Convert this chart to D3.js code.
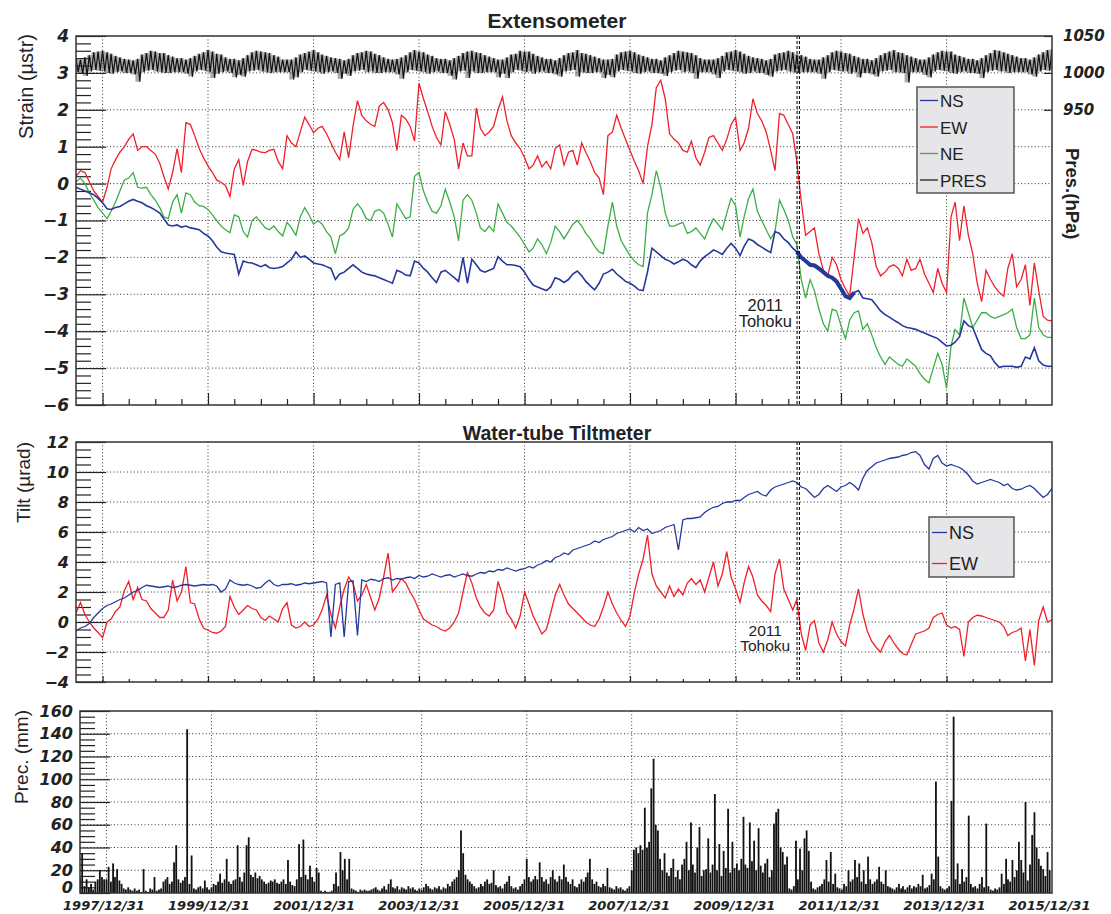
<!DOCTYPE html>
<html>
<head>
<meta charset="utf-8">
<script src="https://cdn.jsdelivr.net/npm/d3@7"></script>
<style>
  body { margin: 0; background: #fff; }
  .ax path.domain { display: none; }
  .ax line { stroke: #222; stroke-width: 1.2; }
  .ax text { font-family: "DejaVu Sans"; font-weight: bold; font-style: italic; fill: #222; }
  .grid line { stroke: #333; stroke-width: 1; stroke-dasharray: 1 2.4; }
  .lbl { font-family: "Liberation Sans", Arial, sans-serif; fill: #222; }
</style>
</head>
<body>
<svg id="chart" width="1111" height="914"></svg>
<script>
// monthly samples from 1997-07, one row = Jul..Jun
const extNS = [
  -0.1,-0.15,-0.2,-0.25,-0.3,-0.4,-0.52,-0.68,-0.7,-0.65,-0.62,-0.55,
  -0.48,-0.43,-0.48,-0.52,-0.6,-0.65,-0.72,-0.8,-0.95,-1.12,-1.15,-1.12,
  -1.18,-1.15,-1.2,-1.22,-1.25,-1.35,-1.42,-1.55,-1.72,-1.85,-1.88,-1.9,
  -1.92,-2.45,-2.1,-2.14,-2.15,-2.2,-2.25,-2.2,-2.28,-2.3,-2.28,-2.25,
  -2.15,-2.05,-1.85,-2.0,-1.96,-2.05,-2.15,-2.18,-2.2,-2.25,-2.3,-2.6,
  -2.45,-2.4,-2.3,-2.2,-2.3,-2.4,-2.45,-2.48,-2.5,-2.55,-2.6,-2.65,
  -2.7,-2.35,-2.4,-2.48,-2.5,-2.1,-2.15,-2.3,-2.4,-2.55,-2.68,-2.4,
  -2.35,-2.45,-2.55,-2.65,-2.0,-2.7,-2.05,-2.2,-2.35,-2.4,-2.35,-2.3,
  -1.98,-2.1,-2.2,-2.2,-2.22,-2.25,-2.4,-2.6,-2.75,-2.8,-2.85,-2.9,
  -2.8,-2.55,-2.6,-2.68,-2.6,-2.45,-2.37,-2.5,-2.65,-2.77,-2.88,-2.7,
  -2.45,-2.4,-2.32,-2.45,-2.55,-2.65,-2.7,-2.78,-2.88,-2.9,-2.4,-1.75,
  -1.85,-1.95,-2.05,-2.1,-2.18,-2.12,-2.05,-2.1,-2.2,-2.28,-2.1,-1.98,
  -1.9,-1.8,-1.85,-1.92,-1.75,-1.62,-1.75,-1.95,-1.7,-1.5,-1.55,-1.65,
  -1.72,-1.8,-1.87,-1.3,-1.35,-1.5,-1.6,-1.75,-1.85,-2.0,-2.1,-2.2,
  -2.22,-2.3,-2.4,-2.5,-2.55,-2.65,-2.85,-3.05,-3.1,-2.95,-2.9,-3.1,
  -3.12,-3.15,-3.3,-3.45,-3.55,-3.62,-3.7,-3.77,-3.85,-3.9,-3.92,-3.95,
  -4.0,-4.05,-4.1,-4.15,-4.2,-4.3,-4.4,-4.38,-4.3,-4.15,-3.72,-3.85,
  -3.9,-4.2,-4.5,-4.6,-4.67,-4.85,-4.98,-4.95,-4.95,-4.95,-4.98,-4.95,
  -4.7,-4.75,-4.45,-4.8,-4.92,-4.95,-4.95
];
const extEW = [
  0.2,0.35,0.3,0.05,-0.2,-0.35,-0.5,-0.1,0.4,0.65,0.85,1.0,
  1.2,1.35,0.9,1.0,1.0,0.9,0.8,0.55,0.2,-0.15,0.3,0.95,
  0.3,1.65,1.6,1.3,0.95,0.7,0.48,0.3,0.1,0.03,-0.05,-0.35,
  0.4,0.65,-0.05,0.6,0.93,0.9,0.85,0.84,0.9,0.93,0.6,0.4,
  1.3,1.1,1.0,1.4,1.8,1.6,1.38,1.5,1.55,1.35,1.1,0.85,
  0.65,1.4,0.7,1.55,2.25,1.85,1.7,1.6,1.55,2.1,2.2,2.0,
  1.65,0.9,1.85,1.75,1.55,1.15,2.72,2.3,1.95,1.55,1.25,1.05,
  1.95,1.6,1.2,0.4,1.1,0.75,0.75,2.05,1.5,1.3,1.4,1.55,
  2.0,2.35,1.7,1.3,1.1,0.95,0.7,0.4,0.5,0.75,0.45,0.6,
  0.4,0.95,1.05,0.5,0.85,0.9,0.5,1.1,0.85,0.6,0.3,0.15,
  -0.3,1.3,1.4,1.85,1.5,1.2,0.9,0.6,0.35,0.0,1.0,1.6,
  2.6,2.8,2.3,1.35,1.2,1.1,0.9,0.85,1.15,0.7,0.5,0.85,
  1.25,1.3,1.1,0.9,1.2,1.6,1.8,0.9,1.1,1.5,2.3,1.9,
  1.7,1.4,0.9,0.35,1.9,1.85,1.6,1.35,0.6,-0.5,-1.4,-1.3,
  -1.2,-1.9,-2.35,-2.5,-2.0,-2.2,-2.6,-2.85,-3.05,-2.0,-0.95,-1.35,
  -1.2,-1.6,-2.25,-2.5,-2.4,-2.25,-2.2,-2.3,-2.5,-2.05,-2.35,-2.3,
  -2.05,-2.45,-2.7,-2.95,-2.3,-2.7,-2.95,-0.9,-0.5,-1.55,-0.6,-1.4,
  -1.9,-2.7,-3.2,-2.35,-2.6,-2.8,-2.95,-3.05,-2.3,-1.9,-2.8,-2.6,
  -2.2,-3.3,-2.15,-2.9,-3.6,-3.7,-3.72
];
const extNE = [
  0.05,0.15,0.0,-0.25,-0.45,-0.65,-0.8,-0.95,-0.75,-0.5,-0.2,0.1,
  0.15,0.3,-0.1,-0.12,-0.1,-0.3,-0.45,-0.65,-0.9,-0.95,-0.5,-0.3,
  -0.8,-0.25,-0.3,-0.5,-0.6,-0.62,-0.7,-0.85,-1.0,-1.15,-1.25,-1.33,
  -0.85,-0.9,-1.3,-1.45,-1.0,-0.9,-1.05,-1.2,-1.25,-1.15,-1.3,-1.42,
  -1.05,-1.2,-1.4,-0.9,-0.65,-0.85,-1.1,-1.0,-1.1,-1.3,-1.45,-1.9,
  -1.42,-1.35,-1.2,-0.7,-0.55,-0.7,-0.95,-1.0,-0.75,-0.7,-0.8,-1.1,
  -1.45,-0.55,-0.75,-0.95,-0.9,0.2,0.3,-0.2,-0.5,-0.75,-0.8,-0.6,
  -0.15,-0.5,-0.9,-1.55,-0.45,-0.3,-0.45,-0.8,-1.2,-1.3,-1.15,-1.3,
  -0.55,-0.8,-1.05,-1.15,-1.3,-1.45,-1.65,-1.85,-1.75,-1.5,-1.65,-1.9,
  -1.6,-1.15,-1.3,-1.5,-1.3,-1.1,-1.0,-1.15,-1.35,-1.5,-1.7,-1.85,
  -1.9,-1.15,-0.5,-1.15,-1.55,-1.75,-1.95,-2.1,-2.2,-2.25,-0.8,-0.3,
  0.35,-0.1,-0.8,-1.15,-1.15,-1.1,-1.05,-1.35,-1.3,-1.2,-1.35,-1.5,
  -1.2,-0.95,-1.1,-1.25,-0.8,-0.4,-0.6,-1.45,-0.9,-0.4,-0.15,-0.75,
  -1.0,-1.25,-1.5,-1.3,-0.45,-0.7,-1.0,-1.45,-1.65,-2.6,-3.1,-2.6,
  -2.9,-3.4,-3.8,-4.0,-3.4,-3.45,-3.85,-4.2,-3.7,-3.5,-3.45,-3.95,
  -3.8,-4.1,-4.45,-4.7,-4.9,-4.7,-4.8,-4.9,-4.95,-4.75,-4.85,-4.95,
  -5.15,-5.3,-5.4,-5.0,-4.6,-4.9,-5.55,-4.4,-3.95,-4.1,-3.1,-3.5,
  -3.9,-3.7,-3.5,-3.5,-3.6,-3.65,-3.6,-3.55,-3.5,-3.4,-3.9,-4.2,
  -4.2,-4.1,-3.1,-3.9,-4.1,-4.17,-4.17
];
// air pressure (hPa): monthly upper and lower edge of the daily trace
const presHi = [
  1019,1018,1021,1024,1028,1029,1030,1028,1026,1023,1021,1019,
  1018,1017,1019,1025,1027,1030,1029,1027,1027,1024,1022,1020,
  1020,1018,1020,1023,1026,1028,1031,1029,1026,1025,1021,1019,
  1019,1017,1020,1024,1028,1030,1029,1028,1027,1024,1022,1018,
  1018,1018,1021,1025,1027,1029,1031,1028,1025,1023,1021,1020,
  1019,1017,1019,1024,1027,1028,1030,1029,1026,1024,1021,1019,
  1018,1019,1021,1024,1028,1031,1029,1028,1025,1023,1020,1019,
  1019,1017,1020,1023,1027,1029,1030,1028,1027,1024,1022,1020,
  1018,1018,1021,1025,1026,1030,1029,1029,1026,1023,1021,1019,
  1019,1017,1020,1024,1027,1028,1031,1027,1026,1024,1022,1020,
  1018,1018,1019,1025,1028,1029,1030,1028,1025,1023,1021,1019,
  1019,1017,1021,1024,1027,1030,1029,1028,1027,1024,1020,1018,
  1018,1018,1020,1023,1028,1029,1031,1029,1026,1023,1021,1020,
  1019,1017,1019,1025,1027,1028,1030,1028,1025,1024,1022,1019,
  1018,1018,1021,1024,1028,1030,1029,1027,1026,1023,1021,1019,
  1019,1017,1020,1024,1027,1029,1031,1028,1027,1024,1022,1020,
  1018,1018,1021,1025,1028,1030,1029,1029,1025,1023,1021,1019,
  1019,1017,1020,1024,1027,1031,1030,1028,1026,1024,1022,1020,
  1020,1018,1021,1025,1028,1031,1032
];
const presLo = [
  1001,999,996,1002,1004,1003,1002,1000,999,1001,1002,1000,
  1000,998,988,1001,1003,1004,1002,1001,1000,1000,1001,1001,
  1001,999,995,1002,1004,1003,1001,993,999,1001,1002,1000,
  994,997,995,1002,1003,1004,1002,1001,1000,1001,1001,1001,
  1001,991,994,1001,1004,1003,1002,1001,999,1001,1002,1000,
  992,999,996,1002,1003,1004,1001,1002,1000,1000,1001,1001,
  1001,998,992,1001,1004,1003,1002,1001,999,1001,1002,1000,
  1000,996,991,1002,1003,993,1002,1000,1000,1001,1001,1001,
  994,999,993,1001,1004,1003,1001,1002,999,1001,1002,1000,
  1000,998,995,1002,1003,1004,995,1001,1000,1000,1001,1001,
  993,997,994,1002,1004,1003,1002,1000,999,1001,1002,1000,
  1000,999,996,1001,1003,1004,1001,1002,1000,992,1001,1001,
  1001,998,993,1002,1004,1003,1002,1001,999,1000,1002,1000,
  1000,997,995,1002,1003,1004,1002,1001,1000,1001,1001,1001,
  1001,999,992,1001,1004,1003,1002,1002,999,1001,994,1000,
  1000,998,995,1002,1003,1004,1001,1001,1000,987,1001,1001,
  1001,997,994,1002,1004,1003,1002,1000,999,1001,1002,1000,
  1000,999,993,1001,1003,1004,1002,1002,1000,1001,1001,1001,
  1001,998,995,1002,1004,1003,1004
];
const tiltNS = [
  -0.6,-0.4,-0.3,-0.1,0.3,0.6,0.9,1.1,1.2,1.35,1.5,1.6,
  1.8,2.0,2.1,2.3,2.45,2.4,2.35,2.3,2.35,2.4,2.3,2.35,
  2.45,2.5,2.45,2.4,2.45,2.5,2.45,2.5,2.4,2.0,2.2,2.8,
  2.6,2.5,2.45,2.5,2.4,2.25,2.3,2.6,2.8,2.5,2.4,2.5,
  2.5,2.55,2.45,2.5,2.6,2.55,2.6,2.65,2.7,2.6,-1.0,2.5,
  2.6,-1.0,2.7,2.75,-0.9,2.8,2.7,2.85,2.8,2.7,2.9,2.95,
  2.8,2.9,2.85,2.95,3.0,2.9,3.1,3.0,3.05,3.2,3.1,3.0,
  3.1,3.15,3.0,3.1,3.2,3.1,3.05,3.2,3.3,3.25,3.4,3.35,
  3.5,3.45,3.6,3.5,3.4,3.5,3.55,3.7,3.6,3.8,3.9,4.1,
  4.0,4.3,4.4,4.6,4.5,4.8,4.9,5.0,5.1,5.2,5.4,5.3,
  5.5,5.6,5.7,5.9,6.0,6.1,6.2,6.0,6.3,6.1,6.2,5.9,
  6.0,6.1,6.3,6.4,6.5,4.8,6.8,6.9,6.9,6.95,7.0,7.3,
  7.5,7.65,7.7,7.9,8.0,8.0,8.1,8.1,8.3,8.5,8.6,8.7,
  8.5,8.4,8.8,9.0,9.1,9.2,9.3,9.4,9.3,9.0,8.9,8.6,
  8.3,8.5,8.9,9.1,8.9,8.7,9.0,9.1,9.3,9.1,8.8,9.6,
  10.1,10.35,10.6,10.7,10.8,10.9,10.95,11.0,11.1,11.15,11.3,11.36,
  11.1,10.5,10.2,10.9,11.1,10.6,10.4,10.5,10.4,10.3,10.1,9.8,
  9.4,9.2,9.3,9.4,9.5,9.4,9.3,9.1,9.2,8.9,8.8,8.85,
  9.0,9.1,8.9,8.6,8.3,8.5,8.9
];
const tiltEW = [
  0.6,1.3,0.5,0.0,-0.4,-0.7,-1.05,0.0,0.2,0.7,1.0,2.1,
  2.7,1.5,2.3,1.5,1.4,0.9,0.6,0.3,0.3,0.8,2.8,1.4,
  2.0,3.7,1.3,1.2,0.2,-0.4,-0.55,-0.7,-0.75,-0.6,-0.3,1.7,
  1.0,0.5,0.8,1.1,0.9,0.8,0.3,0.1,0.4,0.2,0.0,0.9,
  1.3,-0.2,-0.4,-0.3,0.0,-0.3,-0.2,0.2,0.8,1.8,0.5,-0.4,
  1.0,2.2,3.0,2.6,1.4,1.8,2.5,1.6,0.8,1.6,3.0,4.6,
  2.0,2.4,2.9,2.6,2.0,1.5,0.8,0.2,0.0,-0.2,-0.3,-0.5,
  -0.6,-0.4,0.0,0.6,2.0,3.3,2.6,1.6,1.0,0.6,0.4,0.8,
  2.7,1.8,0.6,0.2,-0.4,0.4,2.0,1.2,0.4,-0.2,-0.8,-0.5,
  0.6,1.8,2.5,1.8,1.2,0.9,0.6,0.3,0.0,-0.2,-0.3,0.2,
  1.0,2.0,1.2,0.6,0.1,-0.3,0.4,2.0,3.2,4.2,5.8,3.2,
  2.4,2.0,1.6,2.4,1.7,2.2,1.8,2.6,2.9,2.5,2.8,2.0,
  3.0,4.0,2.4,3.2,4.7,3.0,2.2,1.3,2.6,3.7,3.0,1.8,
  1.4,1.1,0.7,3.2,4.2,2.2,1.5,0.8,1.5,-0.8,-1.9,-0.2,
  0.1,-1.4,-2.0,-1.2,0.0,-0.8,-1.3,-1.6,-0.2,0.9,2.2,0.5,
  -0.6,-1.3,-1.7,-2.0,-1.3,-0.9,-1.4,-1.8,-2.1,-2.2,-1.5,-0.8,
  -0.7,-0.6,-0.4,0.3,0.5,0.6,-0.2,-0.4,-0.3,-0.5,-2.3,0.0,
  0.3,0.45,0.4,0.3,0.2,0.1,0.0,-0.3,-0.9,-0.7,-0.6,-0.4,
  -2.6,-0.5,-2.9,0.1,1.0,0.0,0.15
];
// precipitation (mm), half-month peaks from 1997-07, one row per calendar year
const precip = [
  13,35,6,12,5,8,3,10,12,20,14,12,
  12,23,10,26,14,21,11,8,4,3,5,3,2,4,2,3,1,21,2,1,4,3,14,2,
  3,4,10,12,14,8,10,27,42,12,9,11,14,144,8,33,4,3,5,6,4,11,5,3,
  5,8,7,10,17,9,12,30,10,8,11,12,42,14,10,18,42,49,16,14,18,13,15,12,
  10,8,9,11,10,12,9,8,10,12,8,29,10,7,6,12,43,14,47,16,12,24,14,10,
  22,18,2,1,2,1,1,2,8,18,6,36,20,30,12,30,4,3,2,1,3,2,3,2,
  2,3,4,5,3,2,4,6,3,8,12,5,4,6,3,5,4,3,6,4,5,3,2,4,
  3,5,8,6,4,3,5,4,6,3,5,4,8,6,10,12,14,20,55,35,16,12,10,8,
  6,4,5,8,6,10,12,8,9,20,7,5,6,4,8,10,15,6,4,5,3,6,8,12,
  30,14,10,12,15,12,27,14,10,12,8,14,20,12,10,15,12,25,14,10,8,12,6,5,
  8,12,10,14,18,30,12,8,10,6,5,8,6,22,5,4,3,6,4,5,3,2,4,6,
  20,38,40,35,42,38,75,40,45,92,118,60,55,30,20,35,18,15,22,30,14,20,12,25,
  30,45,20,62,25,18,40,58,15,20,21,48,18,25,87,20,43,15,37,22,74,18,45,22,
  26,20,30,67,25,22,62,28,46,20,57,24,18,26,30,14,20,61,71,74,40,36,25,32,
  4,3,6,46,12,39,20,48,55,37,10,4,3,5,6,8,12,29,10,36,8,17,5,4,
  3,8,6,20,10,12,29,14,26,10,20,8,32,12,8,10,12,23,10,8,20,6,5,4,
  3,5,8,4,6,3,5,7,4,6,5,8,6,16,4,5,7,17,12,98,32,6,4,3,
  4,6,81,155,12,26,8,21,10,14,68,8,5,6,4,8,14,5,61,6,3,2,4,3,
  5,17,8,30,12,10,29,14,20,45,29,18,80,11,25,51,71,40,30,24,21,15,36,20
];

const extLegend = [{name: "NS", color: "#24399b"}, {name: "EW", color: "#f0202a"},
                   {name: "NE", color: "#3cae46"}, {name: "PRES", color: "#222"}];
const tiltLegend = [{name: "NS", color: "#24399b"}, {name: "EW", color: "#f0202a"}];

const quake = new Date(2011, 2, 11);
const t0 = new Date(1997, 6, 1), t1 = new Date(2016, 0, 1);

const svg = d3.select("#chart");

const monthDate = i => d3.timeMonth.offset(t0, i);
const monthly = arr => arr.map((v, i) => ({date: monthDate(i), v}));
const halfMonth = i => d3.timeDay.offset(monthDate(Math.floor(i / 2)), (i % 2) * 15);

// scales
const xTop = d3.scaleTime().domain([t0, t1]).range([76, 1052]);
const xPrec = d3.scaleTime().domain([t0, t1]).range([80, 1052]);
const yStrain = d3.scaleLinear().domain([-6, 4]).range([405, 36]);
const yPres = d3.scaleLinear().domain([950, 1050]).range([yStrain(2), yStrain(4)]);
const yTilt = d3.scaleLinear().domain([-4, 12]).range([682, 442]);
const yPrec = d3.scaleLinear().domain([0, 160]).range([893, 711]);

const xMajor = d3.range(1998, 2016, 2).map(y => new Date(y, 0, 1));
const xMinor = d3.timeMonth.every(6).range(d3.timeDay.offset(t0, 1), t1)
  .filter(d => !(d.getMonth() === 0 && d.getFullYear() % 2 === 0));

function clip(id, x, y) {
  const [xl, xr] = x.range(), [yb, yt] = y.range();
  svg.append("clipPath").attr("id", id).append("rect")
    .attr("x", xl).attr("y", yt).attr("width", xr - xl).attr("height", yb - yt);
}

function grid(x, y, yVals) {
  const [xl, xr] = x.range(), [yb, yt] = y.range();
  const g = svg.append("g").attr("class", "grid");
  g.selectAll(".gv").data(xMajor).join("line").attr("class", "gv")
    .attr("x1", d => x(d)).attr("x2", d => x(d)).attr("y1", yt).attr("y2", yb);
  g.selectAll(".gh").data(yVals).join("line").attr("class", "gh")
    .attr("x1", xl).attr("x2", xr).attr("y1", d => y(d)).attr("y2", d => y(d));
}

function yAxis(x, y, major, minor, size) {
  const g = svg.append("g").attr("class", "ax").attr("transform", `translate(${x.range()[0]},0)`);
  g.call(d3.axisLeft(y).tickValues(major).tickSizeInner(-30).tickSizeOuter(0).tickPadding(7));
  g.append("g").call(d3.axisLeft(y).tickValues(minor).tickSizeInner(-15).tickSizeOuter(0).tickFormat(""));
  g.selectAll("text").style("font-size", size + "px");
  return g;
}

function xTicks(x, yb, majorLen, minorLen) {
  const g = svg.append("g").attr("class", "ax").attr("transform", `translate(0,${yb})`);
  g.call(d3.axisBottom(x).tickValues(xMajor).tickSizeInner(-majorLen).tickSizeOuter(0).tickFormat(""));
  g.append("g").call(d3.axisBottom(x).tickValues(xMinor).tickSizeInner(-minorLen).tickSizeOuter(0).tickFormat(""));
}

function frame(x, y) {
  const [xl, xr] = x.range(), [yb, yt] = y.range();
  svg.append("rect").attr("x", xl).attr("y", yt).attr("width", xr - xl).attr("height", yb - yt)
    .attr("fill", "none").attr("stroke", "#333").attr("stroke-width", 1.5);
}

function quakeMark(x, y, o) {
  const [yb, yt] = y.range();
  const xq = x(quake);
  svg.append("g").selectAll("line").data([-1.2, 1.2]).join("line")
    .attr("x1", d => xq + d).attr("x2", d => xq + d).attr("y1", yt).attr("y2", yb)
    .attr("stroke", "#111").attr("stroke-width", 1.1).attr("stroke-dasharray", "3 2");
  svg.append("text").attr("class", "lbl").attr("text-anchor", "middle").style("font-size", o.size + "px")
    .attr("x", xq - o.dx).attr("y", o.y1).text("2011");
  svg.append("text").attr("class", "lbl").attr("text-anchor", "middle").style("font-size", o.size + "px")
    .attr("x", xq - o.dx).attr("y", o.y2).text("Tohoku");
}

function legend(items, box, size) {
  const g = svg.append("g");
  g.append("rect").attr("x", box.x).attr("y", box.y).attr("width", box.w).attr("height", box.h)
    .attr("fill", "#e6e6e9").attr("stroke", "#555").attr("stroke-width", 1.5);
  const row = g.selectAll("g").data(items).join("g")
    .attr("transform", (d, i) => `translate(${box.x},${box.y0 + i * box.step})`);
  row.append("line").attr("x1", 3).attr("x2", box.lw).attr("y1", -6.5).attr("y2", -6.5)
    .attr("stroke", d => d.color).attr("stroke-width", 1.3);
  row.append("text").attr("class", "lbl").attr("x", box.lw + 2).style("font-size", size + "px").text(d => d.name);
}

const line = (x, y) => d3.line().x(d => x(d.date)).y(d => y(d.v));

// ---------- Extensometer ----------
clip("cTop", xTop, yStrain);
grid(xTop, yStrain, d3.range(-5, 4));
yAxis(xTop, yStrain, d3.range(-6, 5), d3.range(-6, 4.01, 0.2).filter(v => Math.abs(v - Math.round(v)) > 1e-6), 17);
xTicks(xTop, 405, 12, 6);

const gTop = svg.append("g").attr("clip-path", "url(#cTop)").attr("fill", "none");
// pressure: faint band between the monthly edges, with a zigzag through them for the daily scatter
const presBand = presHi.map((hi, i) => ({date: monthDate(i), hi, lo: presLo[i]}));
gTop.append("path").datum(presBand)
  .attr("d", d3.area().x(d => xTop(d.date)).y0(d => yPres(d.lo)).y1(d => yPres(d.hi)).curve(d3.curveStep))
  .attr("fill", "#444").attr("fill-opacity", 0.45);
const presPts = presHi.flatMap((hi, i) => [
  {date: monthDate(i), v: hi},
  {date: d3.timeDay.offset(monthDate(i), 15), v: presLo[i]}
]);
gTop.append("path").datum(presPts).attr("d", line(xTop, yPres)).attr("stroke", "#111").attr("stroke-width", 1.2);
gTop.append("path").datum(monthly(extNE)).attr("d", line(xTop, yStrain)).attr("stroke", extLegend[2].color).attr("stroke-width", 1.3);
gTop.append("path").datum(monthly(extEW)).attr("d", line(xTop, yStrain)).attr("stroke", extLegend[1].color).attr("stroke-width", 1.3);
gTop.append("path").datum(monthly(extNS)).attr("d", line(xTop, yStrain)).attr("stroke", extLegend[0].color).attr("stroke-width", 1.6);
gTop.append("path").datum(monthly(extNS).filter(d => d.date >= new Date(2011, 2, 1) && d.date <= new Date(2012, 3, 1)))
  .attr("d", line(xTop, yStrain)).attr("stroke", extLegend[0].color).attr("stroke-width", 4);

const gRight = svg.append("g").attr("class", "ax").attr("transform", "translate(1052,0)");
gRight.call(d3.axisRight(yPres).tickValues([950, 1000, 1050]).tickFormat(d3.format("d"))
  .tickSizeInner(-8).tickSizeOuter(0).tickPadding(11));
gRight.selectAll("text").style("font-size", "15px");

quakeMark(xTop, yStrain, {size: 16.5, y1: 311, y2: 327, dx: 33});
legend(extLegend, {x: 917, y: 87, w: 97, h: 106, y0: 107, step: 26.5, lw: 21}, 17);
frame(xTop, yStrain);

svg.append("text").attr("class", "lbl").attr("x", 557).attr("y", 28).attr("text-anchor", "middle")
  .style("font-size", "21px").style("font-weight", "bold").text("Extensometer");
svg.append("text").attr("class", "lbl").attr("transform", "translate(33,34) rotate(-90)")
  .attr("text-anchor", "end").style("font-size", "20px").text("Strain (\u00b5str)");
svg.append("text").attr("class", "lbl").attr("transform", "translate(1066,148) rotate(90)")
  .style("font-size", "18.5px").style("font-weight", "bold").text("Pres.(hPa)");

// ---------- Water-tube tiltmeter ----------
clip("cTilt", xTop, yTilt);
grid(xTop, yTilt, d3.range(-2, 12, 2));
yAxis(xTop, yTilt, d3.range(-4, 13, 2), d3.range(-4, 12.01, 0.5).filter(v => v % 2 !== 0), 16);
xTicks(xTop, 682, 6, 3);

const gTilt = svg.append("g").attr("clip-path", "url(#cTilt)").attr("fill", "none");
gTilt.append("path").datum(monthly(tiltEW)).attr("d", line(xTop, yTilt)).attr("stroke", tiltLegend[1].color).attr("stroke-width", 1.3);
gTilt.append("path").datum(monthly(tiltNS)).attr("d", line(xTop, yTilt)).attr("stroke", tiltLegend[0].color).attr("stroke-width", 1.3);

quakeMark(xTop, yTilt, {size: 15.5, y1: 636, y2: 651, dx: 33});
legend(tiltLegend, {x: 929, y: 517, w: 85, h: 60, y0: 539, step: 31, lw: 18}, 18);
frame(xTop, yTilt);

svg.append("text").attr("class", "lbl").attr("x", 557).attr("y", 440).attr("text-anchor", "middle")
  .style("font-size", "19.5px").style("font-weight", "bold").text("Water-tube Tiltmeter");
svg.append("text").attr("class", "lbl").attr("transform", "translate(30,442) rotate(-90)")
  .attr("text-anchor", "end").style("font-size", "19px").text("Tilt (\u00b5rad)");

// ---------- Precipitation ----------
clip("cPrec", xPrec, yPrec);
grid(xPrec, yPrec, d3.range(20, 160, 20));
const gPrecY = yAxis(xPrec, yPrec, d3.range(0, 161, 20), d3.range(0, 161, 5).filter(v => v % 20 !== 0), 16);
gPrecY.selectAll(".tick text").filter(d => d === 0).attr("dy", "-0.05em");

svg.append("g").attr("clip-path", "url(#cPrec)")
  .selectAll("rect").data(precip.map((v, i) => ({date: halfMonth(i), v}))).join("rect")
  .attr("x", d => xPrec(d.date) - 0.9).attr("width", 1.8)
  .attr("y", d => yPrec(d.v)).attr("height", d => yPrec(0) - yPrec(d.v))
  .attr("fill", "#111");

const gDates = svg.append("g").attr("class", "ax").attr("transform", "translate(0,893)");
gDates.call(d3.axisBottom(xPrec).tickValues(xMajor.concat([t1])).tickSize(0).tickPadding(8)
  .tickFormat(d => `${d.getFullYear() - 1}/12/31`));
gDates.selectAll("text").style("font-size", "13px").attr("dx", -3);
frame(xPrec, yPrec);

svg.append("text").attr("class", "lbl").attr("transform", "translate(28,710) rotate(-90)")
  .attr("text-anchor", "end").style("font-size", "19px").text("Prec. (mm)");
</script>
</body>
</html>
